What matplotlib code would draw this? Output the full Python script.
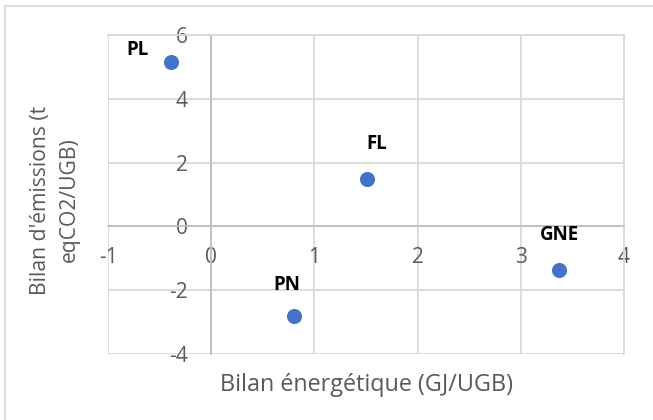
import matplotlib
matplotlib.use("Agg")
import matplotlib.pyplot as plt
from matplotlib.lines import Line2D

labels = ["PL", "FL", "PN", "GNE"]
energy = [-0.39, 1.51, 0.80, 3.37]
emissions = [5.15, 1.49, -2.80, -1.37]
xticks = [-1, 0, 1, 2, 3, 4]
yticks = [-4, -2, 0, 2, 4, 6]
label_offsets = {"PL": (-24, 9), "FL": (7, 25), "PN": (-5, 22), "GNE": (0, 25)}

plt.rcParams["axes.unicode_minus"] = False
FONT = "Open Sans"
GRAY = "#595959"
GRID = "#d9d9d9"
AXIS = "#bfbfbf"

fig = plt.figure(figsize=(6.53, 4.20), dpi=100)
W, H = 653, 420
ax = fig.add_axes([108 / W, 1 - 354 / H, (624 - 108) / W, (354 - 35) / H])

ax.set_xlim(-1, 4)
ax.set_ylim(-4, 6)
ax.set_xticks(xticks)
ax.set_yticks(yticks)
ax.grid(True, color=GRID, linewidth=1.3)
ax.set_axisbelow(True)

for s in ["top", "right"]:
    ax.spines[s].set_color(GRID)
    ax.spines[s].set_linewidth(1.3)
ax.spines["left"].set_position(("data", 0))
ax.spines["bottom"].set_position(("data", 0))
ax.spines["left"].set_color(AXIS)
ax.spines["bottom"].set_color(AXIS)
ax.spines["left"].set_linewidth(1.3)
ax.spines["bottom"].set_linewidth(1.3)

ax.tick_params(axis="both", length=0, labelsize=15, labelcolor=GRAY)
ax.tick_params(axis="x", pad=15)
ax.tick_params(axis="y", pad=17)
for t in ax.get_xticklabels() + ax.get_yticklabels():
    t.set_fontfamily(FONT)

ax.scatter(energy, emissions, s=118, color="#4472C4", zorder=3, linewidths=0)

for lab, x, y in zip(labels, energy, emissions):
    ax.annotate(lab, (x, y), xytext=label_offsets[lab], textcoords="offset points",
                ha="center", va="center", fontsize=13.5, fontweight="bold",
                color="black", fontfamily=FONT)

fig.text(366 / W, 1 - 391 / H, "Bilan énergétique (GJ/UGB)", ha="center", va="baseline",
         fontsize=16.8, color=GRAY, fontfamily=FONT)
fig.text(55 / W, 1 - 200 / H, "Bilan d'émissions (t\neqCO2/UGB)", ha="center", va="center",
         rotation=90, fontsize=15.2, color=GRAY, fontfamily=FONT, linespacing=1.5,
         multialignment="center")

# chart border (top and left visible)
fig.add_artist(Line2D([5 / W, 1], [1 - 6 / H, 1 - 6 / H], color=GRID, lw=1.3,
                      transform=fig.transFigure))
fig.add_artist(Line2D([5 / W, 5 / W], [0, 1 - 6 / H], color=GRID, lw=1.3,
                      transform=fig.transFigure))

fig.savefig("out.png", dpi=100)
